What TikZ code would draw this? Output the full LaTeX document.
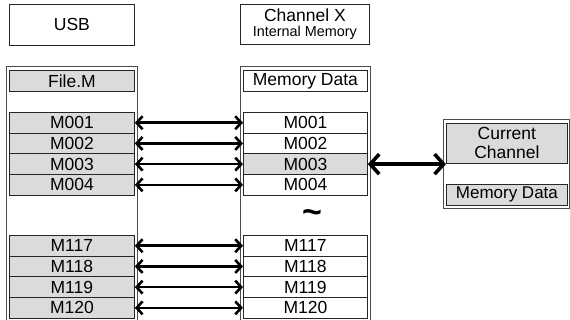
\documentclass[tikz,border=0pt]{standalone}
\usepackage{fontspec}
\setmainfont{Liberation Sans}
\usetikzlibrary{arrows.meta}
\definecolor{cellgray}{gray}{0.86}
\definecolor{edgegray}{gray}{0.3}
\tikzset{
  cell/.style={draw=black!85, line width=0.8pt, inner sep=0pt, anchor=north west,
    font=\fontsize{17.5}{17.5}\selectfont},
  grayc/.style={cell, fill=cellgray},
  cont/.style={draw=edgegray, line width=1.1pt, inner sep=0pt, anchor=north west},
  link/.style={line width=2.6pt, {Straight Barb[length=6pt,width=13pt,line width=2.6pt]}-{Straight Barb[length=6pt,width=13pt,line width=2.6pt]}},
  biglink/.style={line width=3.6pt, {Straight Barb[length=9pt,width=20pt,line width=3.6pt]}-{Straight Barb[length=9pt,width=20pt,line width=3.6pt]}},
}
\begin{document}
\begin{tikzpicture}[x=1pt,y=-1pt]
\useasboundingbox (0,0) rectangle (570,320);
\clip (0,0) rectangle (570,320);
% top titles
\node[cell, minimum width=125pt, minimum height=41pt] (usb) at (9,4) {USB};
\node[cell, minimum width=129pt, minimum height=40pt, align=center] (chx) at (240,4)
  {Channel X\\[-2pt]{\fontsize{14.4}{14.4}\selectfont Internal Memory}};
% containers
\node[cont, minimum width=131pt, minimum height=260pt] (lc) at (6,66) {};
\node[cont, minimum width=130pt, minimum height=260pt] (mc) at (240,66) {};
\node[cont, minimum width=126pt, minimum height=89pt] (rc) at (443,119) {};
% headers
\node[grayc, minimum width=125pt, minimum height=21pt] (fm) at (9,70) {File.M};
\node[cell, minimum width=124pt, minimum height=21pt] (md) at (243,70) {Memory Data};
% rows
\foreach \i/\y/\t in {1/112/M001,2/132.7/M002,3/153.4/M003,4/174.1/M004,
                      5/235/M117,6/255.7/M118,7/276.4/M119,8/297.1/M120}{
  \node[grayc, minimum width=125pt, minimum height=20.7pt] (l\i) at (9,\y) {\t};
}
\foreach \i/\y/\t in {1/112/M001,2/132.7/M002,4/174.1/M004,
                      5/235/M117,6/255.7/M118,7/276.4/M119,8/297.1/M120}{
  \node[cell, minimum width=124pt, minimum height=20.7pt] (m\i) at (243,\y) {\t};
}
\node[grayc, minimum width=124pt, minimum height=20.7pt] (m3) at (243,153.4) {M003};
% tilde
\node[inner sep=0pt, font=\bfseries\fontsize{34}{34}\selectfont] (tl) at (312,217) {\textasciitilde};
% right box
\node[grayc, minimum width=121pt, minimum height=40pt, align=center, font=\fontsize{17.5}{19}\selectfont] (cc) at (446,123) {Current\\Channel};
\node[grayc, minimum width=121pt, minimum height=21pt, font=\fontsize{17}{17}\selectfont] (rmd) at (446,184) {Memory Data};
% links
\foreach \i in {1,...,8}{
  \draw[link] (l\i.east) -- (m\i.west);
}
\coordinate (ccin) at (m3.east -| cc.west);
\draw[biglink] (m3.east) -- (ccin);
\end{tikzpicture}
\end{document}
